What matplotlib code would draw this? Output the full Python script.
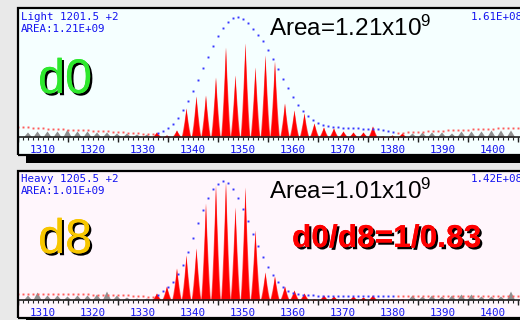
import numpy as np
import matplotlib
matplotlib.use("Agg")
import matplotlib.pyplot as plt
from matplotlib.patches import Rectangle
import matplotlib.patheffects as pe

plt.rcParams["mathtext.fontset"] = "custom"
plt.rcParams["mathtext.rm"] = "Liberation Sans"
plt.rcParams["mathtext.default"] = "regular"

# ---------------- data ----------------
# isotope cluster centres (m/z) and intensities, light (d0) channel
light_pos = [1332.7, 1334.7, 1336.7, 1338.6, 1340.6, 1342.5, 1344.5, 1346.5, 1348.4,
             1350.4, 1352.4, 1354.4, 1356.3, 1358.3, 1360.2, 1362.2, 1364.2, 1366.1,
             1368.1, 1370.0, 1372.0, 1374.0, 1375.9, 1377.9, 1379.8, 1381.8]
light_int = [5, 2, 7, 29, 41, 42, 60, 90, 62, 94, 70, 82, 76, 34, 27, 24, 14, 10,
             9, 6, 5, 5, 11, 1, 2, 4]

# heavy (d8) channel
heavy_pos = light_pos
heavy_int = [7, 14, 32, 45, 52, 97, 115, 118, 93, 113, 70, 28, 24, 14, 10, 7, 1, 5,
             4, 1, 4, 3, 5, 1, 1, 1]

# background (noise) peaks
noise_pos_left = [1306.9, 1308.8, 1310.8, 1312.8, 1314.8, 1316.8, 1318.8, 1320.7,
                  1322.7, 1324.7, 1326.7, 1328.7, 1330.7]
noise_pos_right = [1383.8, 1385.8, 1387.7, 1389.7, 1391.7, 1393.6, 1395.6, 1397.6,
                   1399.6, 1401.5, 1403.5]
light_noise_left = [5, 6, 6, 6, 8, 6, 6, 5, 5, 4, 4, 3, 3]
light_noise_right = [4, 5, 5, 5, 4, 6, 6, 6, 7, 7, 7]
heavy_noise_left = [5, 8, 5, 5, 4, 5, 5, 6, 9, 5, 3, 2, 2]
heavy_noise_right = [5, 4, 5, 4, 5, 6, 6, 4, 4, 4, 9]

# theoretical envelope (blue dots)
env_x = list(range(1333, 1381))
light_env = [4, 6, 9, 13, 19, 27, 36, 46, 57, 69, 80, 91, 101, 109, 115, 119, 120, 118,
             114, 108, 102, 96, 87, 78, 68, 58, 49, 40, 32, 26, 21, 17, 14, 12, 11, 10,
             10, 9, 9, 9, 9, 8, 8, 8, 8, 7, 6, 5]
heavy_env = [5, 9, 13, 18, 26, 35, 48, 62, 77, 90, 102, 111, 116, 119, 117, 111, 102, 91,
             79, 66, 54, 43, 33, 25, 18, 13, 9, 7, 6, 5, 5, 5, 4, 4, 4, 4, 4, 4, 4, 4,
             4, 4, 4, 4, 4, 4, 4, 4]

# baseline fit (red dots)
base_x_left = list(range(1305, 1333))
base_x_right = list(range(1381, 1406))
light_base_left = [10, 10, 10, 9, 9, 9, 8, 8, 8, 8, 7, 7, 7, 7, 7, 6, 6, 6, 6, 5, 5, 5,
                   4, 4, 4, 3, 3, 3]
light_base_right = [4, 4, 5, 5, 5, 5, 6, 6, 6, 6, 7, 7, 7, 7, 7, 8, 8, 8, 8, 8, 9, 9, 9,
                    9, 9]
heavy_base_left = [6, 6, 6, 6, 6, 6, 6, 6, 6, 6, 6, 6, 6, 6, 6, 5, 5, 5, 5, 5, 5, 5, 5,
                   4, 4, 4, 3, 3]
heavy_base_right = [4] * 25

tick_labels = [1310, 1320, 1330, 1340, 1350, 1360, 1370, 1380, 1390, 1400]

# ---------------- figure ----------------
W, H = 520, 320
fig = plt.figure(figsize=(W / 100, H / 100), dpi=100, facecolor="#e9e9e9")

BLUE = "#1414f0"
MONO = "DejaVu Sans Mono"


def fig_rect(x0, y0, x1, y1):
    return [x0 / W, 1 - y1 / H, (x1 - x0) / W, (y1 - y0) / H]


def draw_peaks(ax, pos, ints, color, half_width, power, z=3):
    for c, h in zip(pos, ints):
        xx = np.linspace(c - half_width, c + half_width, 81)
        yy = h * np.clip(1 - np.abs(xx - c) / half_width, 0, None) ** power
        ax.fill_between(xx, 0, yy, color=color, lw=0, zorder=z)


def panel(top, bg, title, area_txt, peak_pos, peak_int, nl, nr, env, bl, br, maxlab):
    x0, x1 = 18, 528
    y0, y1 = top, top + 147
    # drop shadow
    fig.patches.append(Rectangle((26 / W, 1 - (y1 + 8) / H), (x1 - x0) / W,
                                 (y1 - y0) / H, transform=fig.transFigure,
                                 facecolor="black", edgecolor="none", zorder=0))
    ax = fig.add_axes(fig_rect(x0, y0, x1, y1))
    ax.set_zorder(1)
    ax.set_facecolor(bg)
    ax.set_xlim(1305, 1407)
    ax.set_ylim(-18, 129)

    draw_peaks(ax, noise_pos_left, nl, "#8f8f8f", 0.85, 1.0)
    draw_peaks(ax, noise_pos_right, nr, "#8f8f8f", 0.85, 1.0)
    # profile peaks: soft outer flank plus solid core
    draw_peaks(ax, peak_pos, peak_int, "#ff5c5c", 1.0, 1.25, z=3)
    draw_peaks(ax, peak_pos, peak_int, "#ff0000", 0.95, 1.7, z=3.1)

    ax.plot(env_x, env, ls="none", marker="s", ms=1.4, mew=0, color="#3535ff", zorder=4)
    ax.plot(base_x_left, bl, ls="none", marker="s", ms=1.4, mew=0, color="#ff5a5a", zorder=4)
    ax.plot(base_x_right, br, ls="none", marker="s", ms=1.4, mew=0, color="#ff5a5a", zorder=4)

    for s in ("top", "left", "right"):
        ax.spines[s].set_visible(False)
    ax.spines["bottom"].set_position(("data", 0))
    ax.spines["bottom"].set_color("#222222")
    ax.spines["bottom"].set_linewidth(1.2)
    ax.spines["bottom"].set_zorder(5)
    ax.set_xticks(tick_labels)
    ax.set_xticklabels([str(t) for t in tick_labels], fontfamily=MONO,
                       fontsize=7.8, color=BLUE)
    ax.set_xticks(np.arange(1305, 1408, 1), minor=True)
    ax.tick_params(axis="x", which="both", length=2.3, width=0.8, color="#222222",
                   direction="out", pad=3.2)
    ax.set_yticks([])
    # longer marks half way between labels
    ax.vlines(np.arange(1305, 1406, 10), -5, 0, color="#222222", lw=1.0, zorder=5)

    ax.add_patch(Rectangle((0, 0), 1, 1, transform=ax.transAxes, fill=False,
                           edgecolor="black", lw=1.6, clip_on=False, zorder=6))

    def t(x, y, s, **kw):
        fig.text(x / W, 1 - y / H, s, **kw)

    t(21, top + 11.5, title[0], fontfamily=MONO, fontsize=7.8, color=BLUE, va="baseline")
    t(21, top + 23.5, title[1], fontfamily=MONO, fontsize=7.8, color=BLUE, va="baseline")
    t(471, top + 11.5, maxlab, fontfamily=MONO, fontsize=7.8, color=BLUE, va="baseline")
    t(269, top + 28, area_txt, fontfamily="Liberation Sans", fontsize=17.5,
      color="black", va="baseline")
    return ax


panel(8, "#f5ffff", ("Light 1201.5 +2", "AREA:1.21E+09"), r"Area=1.21x10$^{9}$",
      light_pos, light_int, light_noise_left, light_noise_right, light_env,
      light_base_left, light_base_right, "1.61E+08")
panel(171, "#fff6fc", ("Heavy 1205.5 +2", "AREA:1.01E+09"), r"Area=1.01x10$^{9}$",
      heavy_pos, heavy_int, heavy_noise_left, heavy_noise_right, heavy_env,
      heavy_base_left, heavy_base_right, "1.42E+08")

shadow = [pe.withSimplePatchShadow(offset=(1.6, -1.6), shadow_rgbFace="black", alpha=1.0),
          pe.Normal()]
fig.text(38 / W, 1 - 93 / H, "d0", fontfamily="Liberation Sans", fontsize=35,
         color="#2ee82e", va="baseline", path_effects=shadow)
fig.text(38 / W, 1 - 253 / H, "d8", fontfamily="Liberation Sans", fontsize=35,
         color="#f7c600", va="baseline", path_effects=shadow)
fig.text(292 / W, 1 - 247 / H, "d0/d8=1/0.83", fontfamily="Liberation Sans",
         fontweight="bold", fontsize=22.8, color="#ff0000", va="baseline",
         path_effects=shadow)

fig.savefig("out.png", dpi=100, facecolor=fig.get_facecolor())
